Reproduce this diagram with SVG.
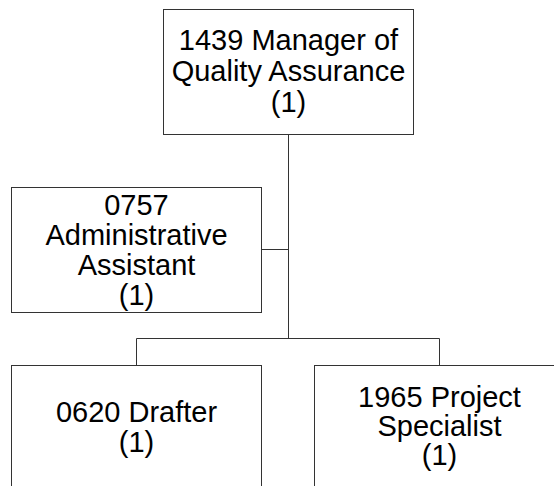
<svg xmlns="http://www.w3.org/2000/svg" width="554" height="486" viewBox="0 0 554 486">
<style>
.box{fill:#fff;stroke:#333;stroke-width:1}
.lbl{font-family:"Liberation Sans",Arial,sans-serif;font-size:29px;fill:#000;text-anchor:middle}
.conn{stroke:#333;stroke-width:1;fill:none}
</style>
<rect width="554" height="486" fill="#fff"/>
<g id="connectors">
<path class="conn" d="M288.5 134.5V338.5M261.5 249.5H288.5M136.5 338.5H439.5M136.5 338.5V365.5M439.5 338.5V365.5"/>
</g>
<g id="n1439">
<rect class="box" x="163.5" y="9.5" width="250" height="125"/>
<text class="lbl" x="288.5" y="50">1439 Manager of</text>
<text class="lbl" x="288.5" y="81">Quality Assurance</text>
<text class="lbl" x="288.5" y="112">(1)</text>
</g>
<g id="n0757">
<rect class="box" x="11.5" y="187.5" width="250" height="125"/>
<text class="lbl" x="136.5" y="215">0757</text>
<text class="lbl" x="136.5" y="245">Administrative</text>
<text class="lbl" x="136.5" y="275">Assistant</text>
<text class="lbl" x="136.5" y="305">(1)</text>
</g>
<g id="n0620">
<rect class="box" x="11.5" y="365.5" width="250" height="125"/>
<text class="lbl" x="136.5" y="422">0620 Drafter</text>
<text class="lbl" x="136.5" y="452">(1)</text>
</g>
<g id="n1965">
<rect class="box" x="314.5" y="365.5" width="250" height="125"/>
<text class="lbl" x="439.5" y="407">1965 Project</text>
<text class="lbl" x="439.5" y="436">Specialist</text>
<text class="lbl" x="439.5" y="465">(1)</text>
</g>
</svg>
